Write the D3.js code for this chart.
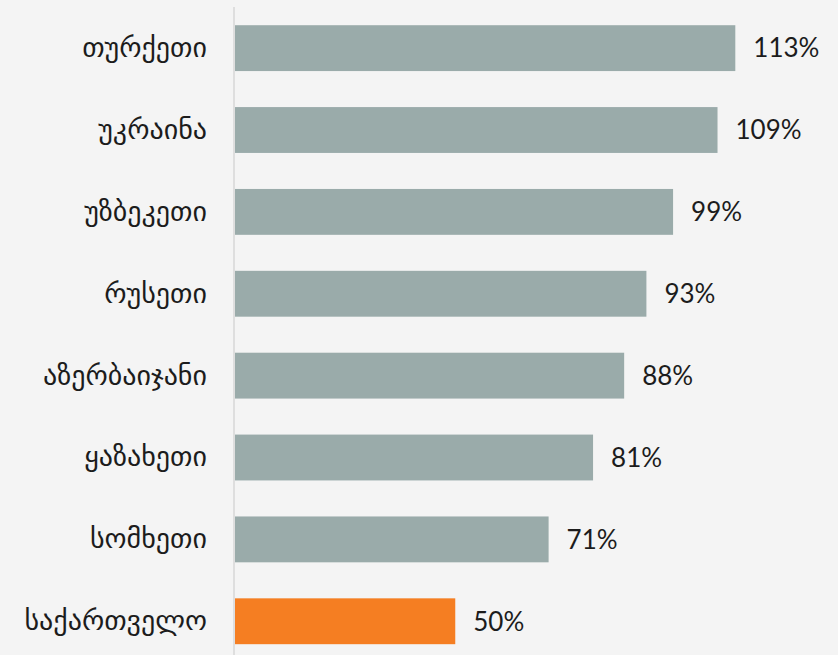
<!DOCTYPE html>
<html>
<head>
<meta charset="utf-8">
<script src="https://cdn.jsdelivr.net/npm/d3@7"></script>
<style>
  html, body { margin: 0; padding: 0; background: #f4f4f4; }
  svg { display: block; }
</style>
</head>
<body>
<svg id="chart" width="838" height="655"></svg>
<script>
const countries = ["თურქეთი", "უკრაინა", "უზბეკეთი", "რუსეთი", "აზერბაიჯანი", "ყაზახეთი", "სომხეთი", "საქართველო"];
const values = [113, 109, 99, 93, 88, 81, 71, 50];
const highlight = "საქართველო";

const W = 838, H = 655;
const svg = d3.select("#chart");
svg.append("rect").attr("width", W).attr("height", H).attr("fill", "#f4f4f4");

const x = d3.scaleLinear().domain([0, 113]).range([233, 735.3]);
const y = d3.scaleBand().domain(countries).range([7.2, 662.2]).paddingInner(0.44).paddingOuter(0.22);

const data = countries.map((c, i) => ({c, v: values[i]}));

svg.selectAll("rect.bar").data(data).enter().append("rect")
  .attr("class", "bar")
  .attr("x", x(0))
  .attr("y", d => y(d.c))
  .attr("width", d => x(d.v) - x(0))
  .attr("height", y.bandwidth())
  .attr("fill", d => d.c === highlight ? "#f57e22" : "#9aabaa");

// value labels
svg.selectAll("text.val").data(data).enter().append("text")
  .attr("class", "val")
  .attr("x", d => x(d.v) + 18)
  .attr("y", d => y(d.c) + y.bandwidth() / 2)
  .attr("dy", "0.36em")
  .attr("font-family", "Lato, 'Open Sans', sans-serif")
  .attr("font-size", 26)
  .attr("fill", "#1c1c1c")
  .text(d => d.v + "%");

// y axis
const yAxis = d3.axisLeft(y).tickSize(0).tickPadding(26);
const g = svg.append("g").attr("transform", `translate(${x(0)},0)`).call(yAxis);
g.select(".domain").remove();
g.selectAll("text")
  .attr("font-family", "'DejaVu Sans', sans-serif")
  .attr("font-size", 28)
  .attr("fill", "#1c1c1c");

svg.append("line")
  .attr("x1", 234).attr("x2", 234)
  .attr("y1", 7).attr("y2", H)
  .attr("stroke", "#dedede").attr("stroke-width", 2);
</script>
</body>
</html>
